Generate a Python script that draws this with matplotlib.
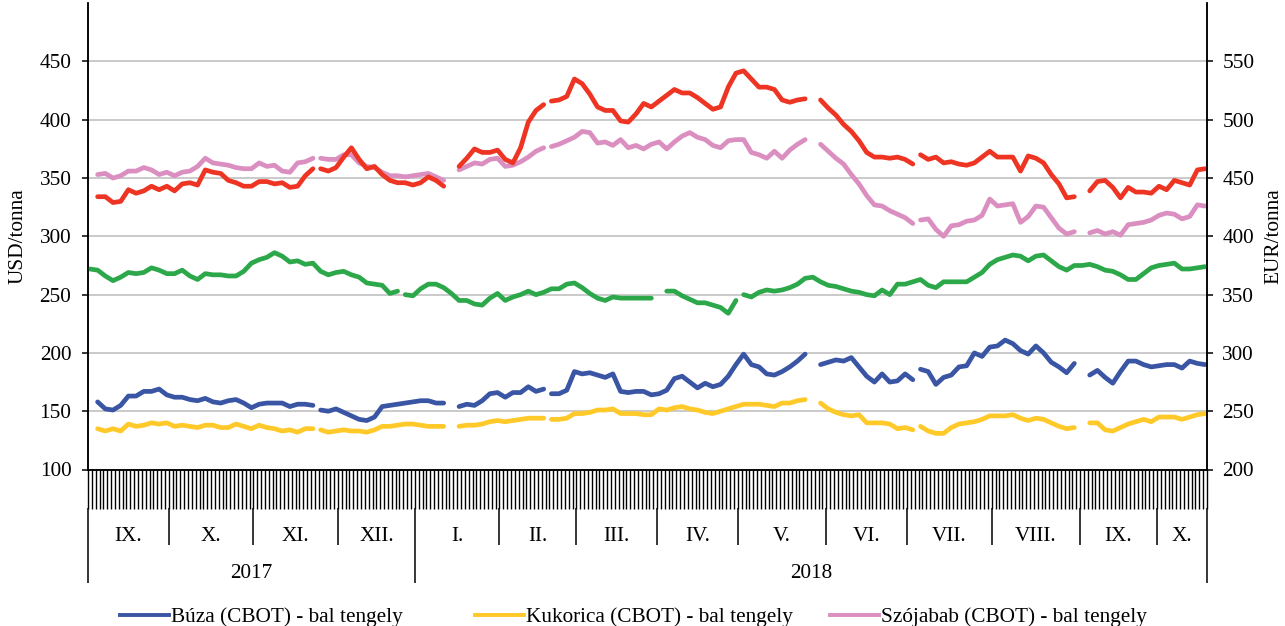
import numpy as np
import pandas as pd
import matplotlib
matplotlib.use('Agg')
import matplotlib.pyplot as plt
from matplotlib.lines import Line2D

nan = np.nan

# trading days on the category axis (days when every market was shut are left out)
trade_days = pd.bdate_range('2017-09-01', '2018-10-17')
trade_days = trade_days.drop(pd.to_datetime(['2017-12-25', '2018-01-01', '2018-03-30']))

cbot_closed = ['2017-09-04', '2017-11-23', '2018-01-15', '2018-02-19',
               '2018-05-28', '2018-07-04', '2018-09-03']
matif_closed = ['2017-12-26', '2018-04-02', '2018-05-01']

month_labels = ['IX.', 'X.', 'XI.', 'XII.', 'I.', 'II.', 'III.', 'IV.',
                'V.', 'VI.', 'VII.', 'VIII.', 'IX.', 'X.']
year_labels = ['2017', '2018']

buza = [157, 158, 152, 151, 155, 163, 163, 167, 167, 169,
        164, 162, 162, 160, 159, 161, 158, 157, 159, 160,
        157, 153, 156, 157, 157, 157, 154, 156, 156, 155,
        151, 150, 152, 149, 146, 143, 142, 145, 154, 155,
        156, 157, 158, 159, 159, 157, 157, nan, 154, 156,
        155, 159, 165, 166, 162, 166, 166, 171, 167, 169,
        165, 165, 168, 184, 182, 183, 181, 179, 182, 167,
        166, 167, 167, 164, 165, 168, 178, 180, 175, 170,
        174, 171, 173, 180, 190, 199, 190, 188, 182, 181,
        184, 188, 193, 199, nan, 190, 192, 194, 193, 196,
        188, 180, 175, 182, 175, 176, 182, 177, 186, 184,
        173, 179, 181, 188, 189, 200, 197, 205, 206, 211,
        208, 202, 199, 206, 200, 192, 188, 183, 191, nan,
        181, 185, 179, 174, 184, 193, 193, 190, 188, 189,
        190, 190, 187, 193, 191, 190]

kukorica = [135, 135, 133, 135, 133, 139, 137, 138, 140, 139,
            140, 137, 138, 137, 136, 138, 138, 136, 136, 139,
            137, 135, 138, 136, 135, 133, 134, 132, 135, 135,
            134, 132, 133, 134, 133, 133, 132, 134, 137, 137,
            138, 139, 139, 138, 137, 137, 137, nan, 137, 138,
            138, 139, 141, 142, 141, 142, 143, 144, 144, 144,
            143, 143, 144, 148, 148, 149, 151, 151, 152, 148,
            148, 148, 147, 147, 152, 151, 153, 154, 152, 151,
            149, 148, 150, 152, 154, 156, 156, 156, 155, 154,
            157, 157, 159, 160, nan, 157, 152, 149, 147, 146,
            147, 140, 140, 140, 139, 135, 136, 134, 137, 133,
            131, 131, 136, 139, 140, 141, 143, 146, 146, 146,
            147, 144, 142, 144, 143, 140, 137, 135, 136, nan,
            140, 140, 134, 133, 136, 139, 141, 143, 141, 145,
            145, 145, 143, 145, 147, 148]

szojabab = [353, 353, 354, 350, 352, 356, 356, 359, 357, 353,
            355, 352, 355, 356, 360, 367, 363, 362, 361, 359,
            358, 358, 363, 360, 361, 356, 355, 363, 364, 367,
            367, 366, 366, 370, 370, 363, 360, 359, 355, 352,
            352, 351, 352, 353, 354, 351, 348, nan, 357, 360,
            363, 362, 366, 367, 360, 361, 364, 368, 373, 376,
            377, 379, 382, 385, 390, 389, 380, 381, 378, 383,
            376, 378, 375, 379, 381, 375, 381, 386, 389, 385,
            383, 378, 376, 382, 383, 383, 372, 370, 367, 373,
            367, 374, 379, 383, nan, 379, 373, 367, 362, 353,
            345, 335, 327, 326, 322, 319, 316, 311, 314, 315,
            306, 300, 309, 310, 313, 314, 318, 332, 326, 327,
            328, 312, 317, 326, 325, 316, 307, 302, 304, nan,
            303, 305, 302, 304, 301, 310, 311, 312, 314, 318,
            320, 319, 315, 317, 327, 326]

szojadara = [334, 334, 334, 329, 330, 340, 337, 339, 343, 340,
             343, 339, 345, 346, 344, 357, 355, 354, 348, 346,
             343, 343, 347, 347, 345, 346, 342, 343, 352, 358,
             358, 356, 359, 368, 376, 366, 358, 360, 353, 348,
             346, 346, 344, 346, 351, 348, 343, nan, 360, 367,
             375, 372, 372, 374, 366, 363, 376, 398, 408, 413,
             416, 417, 420, 435, 431, 422, 411, 408, 408, 399,
             398, 405, 414, 411, 416, 421, 426, 423, 423, 419,
             414, 409, 411, 428, 440, 442, 435, 428, 428, 426,
             417, 415, 417, 418, nan, 417, 410, 404, 396, 390,
             382, 372, 368, 368, 367, 368, 366, 362, 370, 366,
             368, 363, 364, 362, 361, 363, 368, 373, 368, 368,
             368, 356, 369, 367, 363, 353, 345, 333, 334, nan,
             339, 347, 348, 342, 333, 342, 338, 338, 337, 343,
             340, 348, 346, 344, 357, 358]

# MATIF rapeseed, EUR/tonna (right axis)
repce = [372, 371, 366, 362, 365, 369, 368, 369, 373, 371,
         368, 368, 371, 366, 363, 368, 367, 367, 366, 366,
         370, 377, 380, 382, 386, 383, 378, 379, 376, 377,
         370, 367, 369, 370, 367, 365, 360, 359, 358, 351,
         353, 350, 349, 355, 359, 359, 356, 351, 345, 345,
         342, 341, 347, 351, 345, 348, 350, 353, 350, 352,
         355, 355, 359, 360, 356, 351, 347, 345, 348, 347,
         347, 347, 347, 347, nan, 353, 353, 349, 346, 343,
         343, 341, 339, 334, 345, 350, 348, 352, 354, 353,
         354, 356, 359, 364, 365, 361, 358, 357, 355, 353,
         352, 350, 349, 354, 350, 359, 359, 361, 363, 358,
         356, 361, 361, 361, 361, 365, 369, 376, 380, 382,
         384, 383, 379, 383, 384, 379, 374, 371, 375, 375,
         376, 374, 371, 370, 367, 363, 363, 368, 373, 375,
         376, 377, 372, 372, 373, 374]

step = 2
n_days = len(trade_days)
sample_idx = np.arange(0, n_days, step)
day_pos = {d: i for i, d in enumerate(trade_days)}


def with_gaps(values, closed):
    # break the line on exchange holidays
    y = np.array(values, dtype=float)
    x = sample_idx.astype(float)
    gaps = [day_pos[pd.Timestamp(d)] for d in closed]
    extra = [g for g in gaps if g not in set(sample_idx)]
    x = np.concatenate([x, extra])
    y = np.concatenate([y, np.full(len(extra), nan)])
    order = np.argsort(x)
    return x[order] + 0.5, y[order]


plt.rcParams['font.family'] = ['Liberation Serif', 'DejaVu Serif']
fs = 15.3

fig = plt.figure(figsize=(12.85, 6.26), dpi=100)
ax = fig.add_axes([88 / 1285, 0.25, 1119 / 1285, 466.3 / 626])
ax2 = ax.twinx()

c_buza = '#3A55A4'
c_kuk = '#FFC92A'
c_szoja = '#DA8FC0'
c_dara = '#EE3524'
c_repce = '#2CA84A'
line_kw = dict(lw=3.4, solid_capstyle='round', solid_joinstyle='round')

ax.plot(*with_gaps(kukorica, cbot_closed), color=c_kuk, **line_kw)
ax.plot(*with_gaps(buza, cbot_closed), color=c_buza, **line_kw)
ax.plot(*with_gaps(szojabab, cbot_closed), color=c_szoja, **line_kw)
ax.plot(*with_gaps(szojadara, cbot_closed), color=c_dara, **line_kw)
ax2.plot(*with_gaps(repce, matif_closed), color=c_repce, **line_kw)

ax.set_xlim(0, n_days)
ax.set_ylim(100, 500)
ax2.set_ylim(200, 600)
# the 500 / 600 labels sit above the cropped top edge, so they are not drawn
ax.set_yticks(np.arange(100, 451, 50))
ax2.set_yticks(np.arange(200, 551, 50))
ax.grid(axis='y', color='#C6C6C6', lw=1.3)
ax.set_axisbelow(True)

for a in (ax, ax2):
    a.spines['top'].set_visible(False)
    for s in ('left', 'right', 'bottom'):
        a.spines[s].set_linewidth(1.1)
    a.tick_params(axis='y', direction='out', length=4, width=1.1, labelsize=fs)
ax.tick_params(axis='y', pad=8)
ax2.tick_params(axis='y', pad=7)

# one tick per trading day -> the comb under the plot
ax.set_xticks(np.arange(n_days + 1))
ax.tick_params(axis='x', direction='out', length=27.9, width=1.0, labelbottom=False)

months = trade_days.to_period('M')
month_counts = [int(np.sum(months == m)) for m in months.unique()]
month_edges = np.concatenate([[0], np.cumsum(month_counts)])
month_mids = (month_edges[:-1] + month_edges[1:]) / 2

years = trade_days.year
year_counts = [int(np.sum(years == y)) for y in np.unique(years)]
year_edges = np.concatenate([[0], np.cumsum(year_counts)])
year_mids = (year_edges[:-1] + year_edges[1:]) / 2

for loc, edges, mids, labels, length in (
        (-38.8 / 466.3, month_edges, month_mids, month_labels, 26.4),
        (-75.5 / 466.3, year_edges, year_mids, year_labels, 27.6)):
    sec = ax.secondary_xaxis(loc)
    sec.set_xticks(edges, labels=[''] * len(edges))
    sec.set_xticks(mids, labels=labels, minor=True)
    sec.tick_params(which='major', direction='out', length=length, width=1.1)
    sec.tick_params(which='minor', length=0, pad=13.5, labelsize=fs)
    for s in sec.spines.values():
        s.set_visible(False)

ax.set_ylabel('USD/tonna', fontsize=fs)
ax.yaxis.set_label_coords(-60 / 1119, 0.5)
ax2.set_ylabel('EUR/tonna', fontsize=fs)
ax2.yaxis.set_label_coords(1 + 57 / 1119, 0.5)

legend_items = [('Búza (CBOT) - bal tengely', c_buza, 120),
                ('Kukorica (CBOT) - bal tengely', c_kuk, 475),
                ('Szójabab (CBOT) - bal tengely', c_szoja, 830)]
for label, col, xpix in legend_items:
    h = Line2D([], [], color=col, lw=2.8)
    fig.legend(handles=[h], labels=[label], loc='center left',
               bbox_to_anchor=(xpix / 1285, 9 / 626), frameon=False,
               fontsize=fs, handlelength=2.3, handletextpad=0.1,
               borderpad=0, borderaxespad=0)

fig.savefig('out.png', dpi=100)
